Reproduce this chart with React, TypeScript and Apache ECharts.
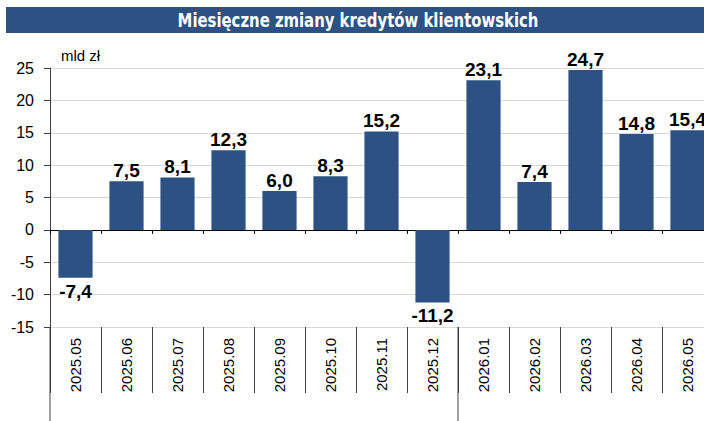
import React, { useEffect, useRef } from "react";
import * as echarts from "echarts";

const categories = [
  "2025.05", "2025.06", "2025.07", "2025.08", "2025.09", "2025.10", "2025.11",
  "2025.12", "2026.01", "2026.02", "2026.03", "2026.04", "2026.05",
];
const values = [-7.4, 7.5, 8.1, 12.3, 6.0, 8.3, 15.2, -11.2, 23.1, 7.4, 24.7, 14.8, 15.4];
const yTicks = { min: -15, max: 25, interval: 5 };
const title = "Miesięczne zmiany kredytów klientowskich";
const unit = "mld zł";
const yearBreakAfter = "2025.12";

const BAR = "#2C5283";
const FONT = "Liberation Sans, Arial, sans-serif";

export default function App() {
  const ref = useRef<HTMLDivElement>(null);
  useEffect(() => {
    if (!ref.current) return;
    const chart = echarts.init(ref.current, undefined, { renderer: "svg" });
    const fmt = (v: number) => v.toFixed(1).replace(".", ",");
    chart.setOption({
      animation: false,
      grid: { left: 50, top: 68, width: 663, height: 259, containLabel: false },
      xAxis: [
        {
          type: "category",
          data: categories,
          position: "bottom",
          axisLine: { onZero: true, lineStyle: { color: "#000", width: 1 } },
          axisTick: { show: true, length: 4, interval: 0, lineStyle: { color: "#000" } },
          axisLabel: { show: false },
          splitLine: { show: false },
        },
        {
          type: "category",
          data: categories,
          position: "bottom",
          axisLine: { show: false, onZero: false },
          axisTick: { show: true, length: 66, interval: 0, lineStyle: { color: "#404040" } },
          axisLabel: {
            rotate: 90,
            interval: 0,
            margin: 11,
            fontSize: 15,
            color: "#000",
            fontFamily: FONT,
          },
        },
      ],
      yAxis: {
        type: "value",
        min: yTicks.min,
        max: yTicks.max,
        interval: yTicks.interval,
        axisLine: { show: true, lineStyle: { color: "#404040" } },
        axisTick: { show: true, length: 6, lineStyle: { color: "#404040" } },
        axisLabel: { margin: 16, fontSize: 16, color: "#000", fontFamily: FONT },
        splitLine: { lineStyle: { color: "#d9d9d9" } },
      },
      series: [
        {
          type: "bar",
          xAxisIndex: 0,
          data: values.map((v) =>
            v < 0 ? { value: v, label: { position: "bottom", distance: 4 } } : v
          ),
          barCategoryGap: "33%",
          itemStyle: { color: BAR },
          label: {
            show: true,
            formatter: (p: any) => fmt(p.value),
            fontSize: 19,
            fontWeight: "bold",
            color: "#000",
            fontFamily: FONT,
            position: "top",
            distance: 1,
          },
        },
      ],
    });
    const idx = categories.indexOf(yearBreakAfter);
    const xa = chart.convertToPixel({ xAxisIndex: 0 }, idx) as number;
    const xb = chart.convertToPixel({ xAxisIndex: 0 }, idx + 1) as number;
    const xBreak = Math.round((xa + xb) / 2);
    const xAxisLeft = chart.convertToPixel({ xAxisIndex: 0 }, 0) as number;
    const yLine = Math.round(xAxisLeft - (xb - xa) / 2);
    const yBottom = chart.convertToPixel({ yAxisIndex: 0 }, yTicks.min) as number;
    const yTop = chart.convertToPixel({ yAxisIndex: 0 }, yTicks.max) as number;
    chart.setOption({
      graphic: [
        {
          type: "rect",
          shape: { x: 6, y: 7, width: 698, height: 26 },
          style: { fill: BAR },
          silent: true,
        },
        {
          type: "text",
          x: 358,
          y: 20,
          scaleX: 0.87,
          style: {
            text: title,
            fill: "#fff",
            fontSize: 19,
            fontWeight: "bold",
            fontFamily: "DejaVu Sans Condensed, sans-serif",
            align: "center",
            verticalAlign: "middle",
          },
        },
        {
          type: "text",
          x: yLine + 11,
          y: yTop - 13,
          style: {
            text: unit,
            fill: "#000",
            fontSize: 15,
            fontFamily: FONT,
            align: "left",
            verticalAlign: "middle",
          },
        },
        {
          type: "line",
          shape: { x1: yLine, y1: yBottom, x2: yLine, y2: 421 },
          style: { stroke: "#404040", lineWidth: 1 },
        },
        {
          type: "line",
          shape: { x1: xBreak, y1: yBottom, x2: xBreak, y2: 421 },
          style: { stroke: "#404040", lineWidth: 1 },
        },
      ],
    });
    return () => chart.dispose();
  }, []);
  return (
    <div style={{ position: "fixed", left: 0, top: 0, width: 704, height: 421, overflow: "hidden", background: "#fff" }}>
      <div ref={ref} style={{ width: 730, height: 421 }} />
    </div>
  );
}
